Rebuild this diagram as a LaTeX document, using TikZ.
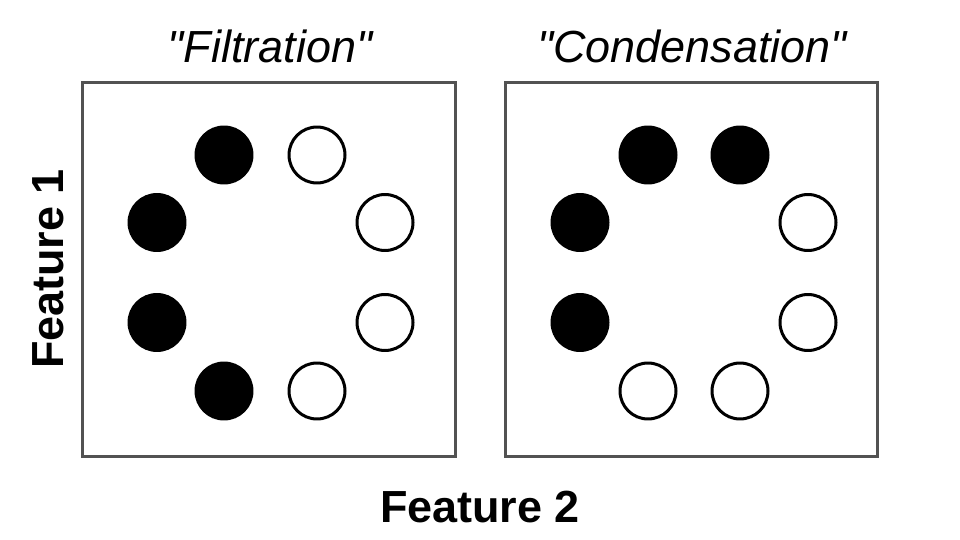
\documentclass[tikz,border=0pt]{standalone}
\usepackage{fontspec}
\setmainfont{Liberation Sans}
\begin{document}
\begin{tikzpicture}
[x=0.02cm, y=-0.02cm, font=\fontsize{25.6}{30}\selectfont]
\tikzstyle{panel}=[draw=black!68, line width=0.06cm]
\tikzstyle{dot}=[circle, draw, line width=0.06cm, inner sep=0mm, minimum size=1.12cm]
\tikzstyle{full}=[dot, fill=black]
\tikzstyle{empty}=[dot, fill=white]
\useasboundingbox (0,0) rectangle (960,540);

% left panel
\draw[panel] (82,83) rectangle (455,456);
\node[anchor=base] (T1) at (270,63) {\itshape\textquotedbl Filtration\textquotedbl};
\node[full]  (L1) at (224,155) {};
\node[empty] (L2) at (317,155) {};
\node[full]  (L3) at (157,222.5) {};
\node[empty] (L4) at (385,222.5) {};
\node[full]  (L5) at (157,322.5) {};
\node[empty] (L6) at (385,322.5) {};
\node[full]  (L7) at (224,391) {};
\node[empty] (L8) at (317,391) {};

% right panel
\draw[panel] (505,83) rectangle (877,456);
\node[anchor=base] (T2) at (692,63) {\itshape\textquotedbl Condensation\textquotedbl};
\node[full]  (R1) at (648,155) {};
\node[full]  (R2) at (740,155) {};
\node[full]  (R3) at (580,222.5) {};
\node[empty] (R4) at (808,222.5) {};
\node[full]  (R5) at (580,322.5) {};
\node[empty] (R6) at (808,322.5) {};
\node[empty] (R7) at (648,391) {};
\node[empty] (R8) at (740,391) {};

% axes
\node[anchor=base] (F2) at (480,522) {\bfseries Feature 2};
\node[anchor=base, rotate=90] (F1) at (63,269) {\bfseries Feature 1};
\end{tikzpicture}
\end{document}
